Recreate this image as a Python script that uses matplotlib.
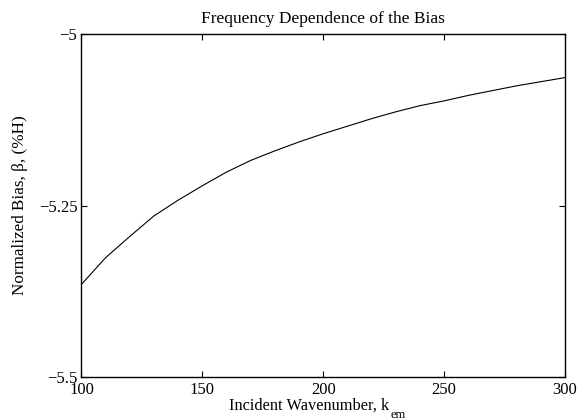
import matplotlib
matplotlib.use('Agg')
import matplotlib.pyplot as plt

plt.rcParams['font.family'] = ['Liberation Serif', 'DejaVu Serif']

# valores
k_em = [100, 110, 120, 130, 140, 150, 160, 170, 180, 190, 200,
        210, 220, 230, 240, 250, 260, 270, 280, 290, 300]
bias = [-5.365, -5.326, -5.295, -5.265, -5.242, -5.221, -5.201, -5.184,
        -5.170, -5.157, -5.145, -5.134, -5.123, -5.113, -5.104, -5.097,
        -5.089, -5.082, -5.075, -5.069, -5.063]

xticks = [100, 150, 200, 250, 300]
yticks = [-5.5, -5.25, -5.0]
ylabels = ['\u22125.5', '\u22125.25', '\u22125']

fig = plt.figure(figsize=(5.85, 4.2), dpi=100)
ax = fig.add_axes([0.1393, 0.1031, 0.8265, 0.8148])

ax.plot(k_em, bias, color='black', linewidth=0.8)

ax.set_xlim(100, 300)
ax.set_ylim(-5.5, -5.0)
ax.set_xticks(xticks)
ax.set_xticklabels([str(t) for t in xticks])
ax.set_yticks(yticks)
ax.set_yticklabels(ylabels)
ax.tick_params(direction='in', top=True, right=True, length=4, width=0.8,
               labelsize=12)
ax.tick_params(axis='x', pad=4)
ax.tick_params(axis='y', pad=3)
for s in ax.spines.values():
    s.set_linewidth(1.0)

ax.set_title('Frequency Dependence of the Bias', fontsize=12.5, pad=8.5)

# eje x: texto principal + subindice "em" mas abajo (estilo MATLAB)
ax.set_xlabel('Incident Wavenumber, k', fontsize=11.8)
ax.xaxis.set_label_coords(0.4716, -0.061)
ax.annotate('em', xy=(1, 0), xycoords=ax.xaxis.label,
            xytext=(0.5, 3.5), textcoords='offset points',
            ha='left', va='top', fontsize=9)

ax.set_ylabel('Normalized Bias, \u03b2, (%H)', fontsize=12.3)
ax.yaxis.set_label_coords(-0.1107, 0.5)

fig.savefig('out.png', dpi=100)
